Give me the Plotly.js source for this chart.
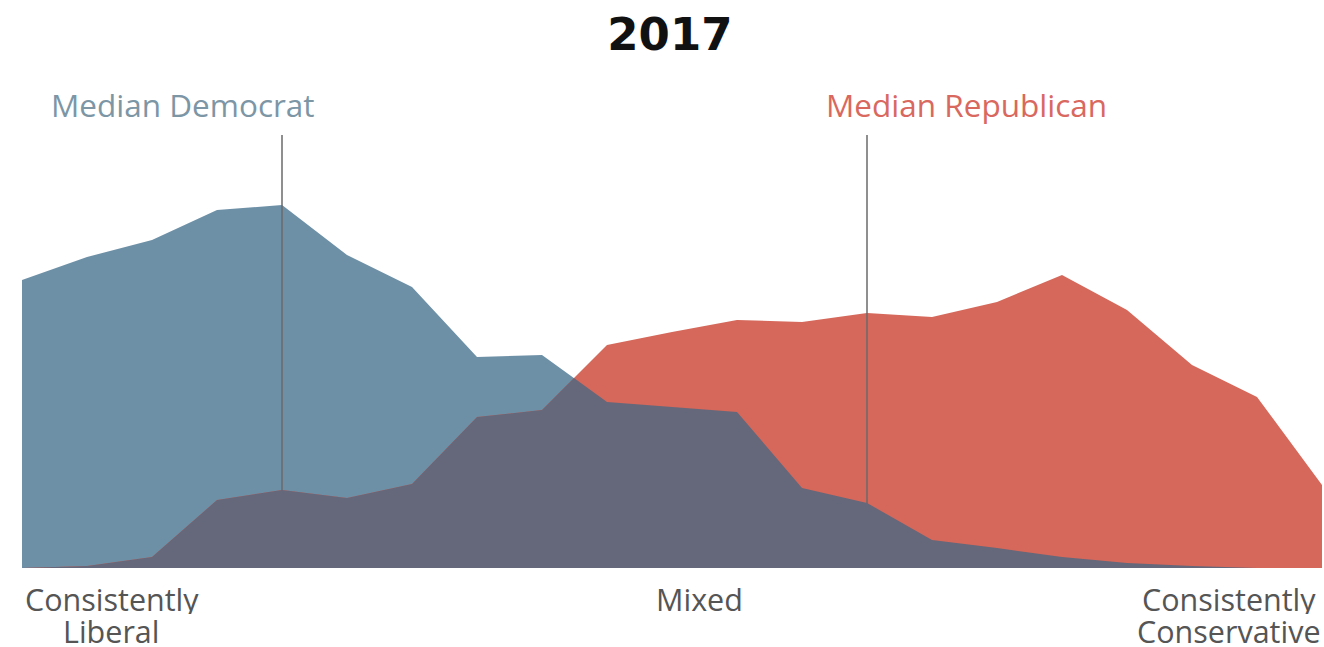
<!DOCTYPE html>
<html>
<head>
<meta charset="utf-8">
<script src="https://cdn.plot.ly/plotly-3.0.1.min.js"></script>
<style>html,body{margin:0;padding:0;background:#fff;}#chart{width:1324px;height:647px;}</style>
</head>
<body>
<div id="chart"></div>
<script>
// Ideological consistency scale, -10 (consistently liberal) to +10 (consistently conservative)
const scale = [-10,-9,-8,-7,-6,-5,-4,-3,-2,-1,0,1,2,3,4,5,6,7,8,9,10];
// Share of each party at each scale point (relative units)
const democrats = [28.8,31.1,32.8,35.8,36.3,31.3,28.1,21.1,21.3,16.6,16.1,15.6,8.0,6.5,2.8,2.0,1.1,0.5,0.2,0.0,0.0];
const republicans = [0.0,0.2,1.1,6.8,7.8,7.0,8.4,15.1,15.8,22.3,23.6,24.8,24.6,25.5,25.1,26.6,29.3,25.8,20.3,17.1,8.3];
const medianDemocrat = -6;
const medianRepublican = 3;
const axisLabels = [
  {x: -8.62, lines: ["Consistently", "Liberal"]},
  {x: 0.43, lines: ["Mixed"]},
  {x: 8.57, lines: ["Consistently", "Conservative"]}
];
const titleText = "2017";

// Overlap region: lower of the two curves, including crossing points
const ovX = [], ovY = [];
for (let i = 0; i < scale.length; i++) {
  ovX.push(scale[i]); ovY.push(Math.min(democrats[i], republicans[i]));
  if (i < scale.length - 1) {
    const d0 = democrats[i] - republicans[i], d1 = democrats[i+1] - republicans[i+1];
    if (d0 * d1 < 0) {
      const t = d0 / (d0 - d1);
      ovX.push(scale[i] + t * (scale[i+1] - scale[i]));
      ovY.push(democrats[i] + t * (democrats[i+1] - democrats[i]));
    }
  }
}

const xMin = -10, xMax = 10, yTop = 43.3;
const px = v => (v - xMin) / (xMax - xMin);   // data x -> paper x
const py = v => v / yTop;                       // data y -> paper y

const traces = [
  {x: scale, y: democrats, type: 'scatter', mode: 'lines', fill: 'tozeroy',
   line: {width: 0, color: '#6d90a7'}, fillcolor: '#6d90a7', hoverinfo: 'skip'},
  {x: scale, y: republicans, type: 'scatter', mode: 'lines', fill: 'tozeroy',
   line: {width: 0, color: '#d5685a'}, fillcolor: '#d5685a', hoverinfo: 'skip'},
  {x: [medianDemocrat, medianDemocrat], y: [0, yTop], type: 'scatter', mode: 'lines',
   line: {width: 1.5, color: '#6a6a6a'}, hoverinfo: 'skip', cliponaxis: false},
  {x: [medianRepublican, medianRepublican], y: [0, yTop], type: 'scatter', mode: 'lines',
   line: {width: 1.5, color: '#6a6a6a'}, hoverinfo: 'skip', cliponaxis: false},
  {x: ovX, y: ovY, type: 'scatter', mode: 'lines', fill: 'tozeroy',
   line: {width: 0, color: '#65677a'}, fillcolor: '#65677a', hoverinfo: 'skip'}
];

const annotations = [
  {x: px(medianDemocrat - 1.53), y: py(46.4), xref: 'paper', yref: 'paper', text: 'Median Democrat', showarrow: false,
   xanchor: 'center', yanchor: 'middle', font: {family: 'Open Sans', size: 31.5, color: '#7d96a6'}},
  {x: px(medianRepublican + 1.53), y: py(46.4), xref: 'paper', yref: 'paper', text: 'Median Republican', showarrow: false,
   xanchor: 'center', yanchor: 'middle', font: {family: 'Open Sans', size: 31.5, color: '#d9685f'}}
];
axisLabels.forEach(l => {
  l.lines.forEach((t, k) => {
    annotations.push({x: px(l.x), y: py(-3.1 - k * 3.2), xref: 'paper', yref: 'paper', text: t, showarrow: false,
      xanchor: 'center', yanchor: 'middle', height: 30, valign: 'middle',
      font: {family: 'Open Sans', size: 30.5, color: '#555555'}});
  });
});

const layout = {
  width: 1324, height: 647,
  margin: {l: 22, r: 2, t: 135, b: 79},
  paper_bgcolor: '#ffffff', plot_bgcolor: '#ffffff',
  showlegend: false,
  title: {text: titleText, x: 0.506, xanchor: 'center', y: 1 - 34/647, yanchor: 'middle',
          font: {family: 'DejaVu Sans', size: 45, color: '#111111', weight: 'bold'}},
  xaxis: {range: [xMin, xMax], showgrid: false, zeroline: false, showticklabels: false, ticks: '', showline: false, fixedrange: true},
  yaxis: {range: [0, yTop], showgrid: false, zeroline: false, showticklabels: false, ticks: '', showline: false, fixedrange: true},
  annotations: annotations
};

Plotly.newPlot('chart', traces, layout, {displayModeBar: false, staticPlot: true});
</script>
</body>
</html>
